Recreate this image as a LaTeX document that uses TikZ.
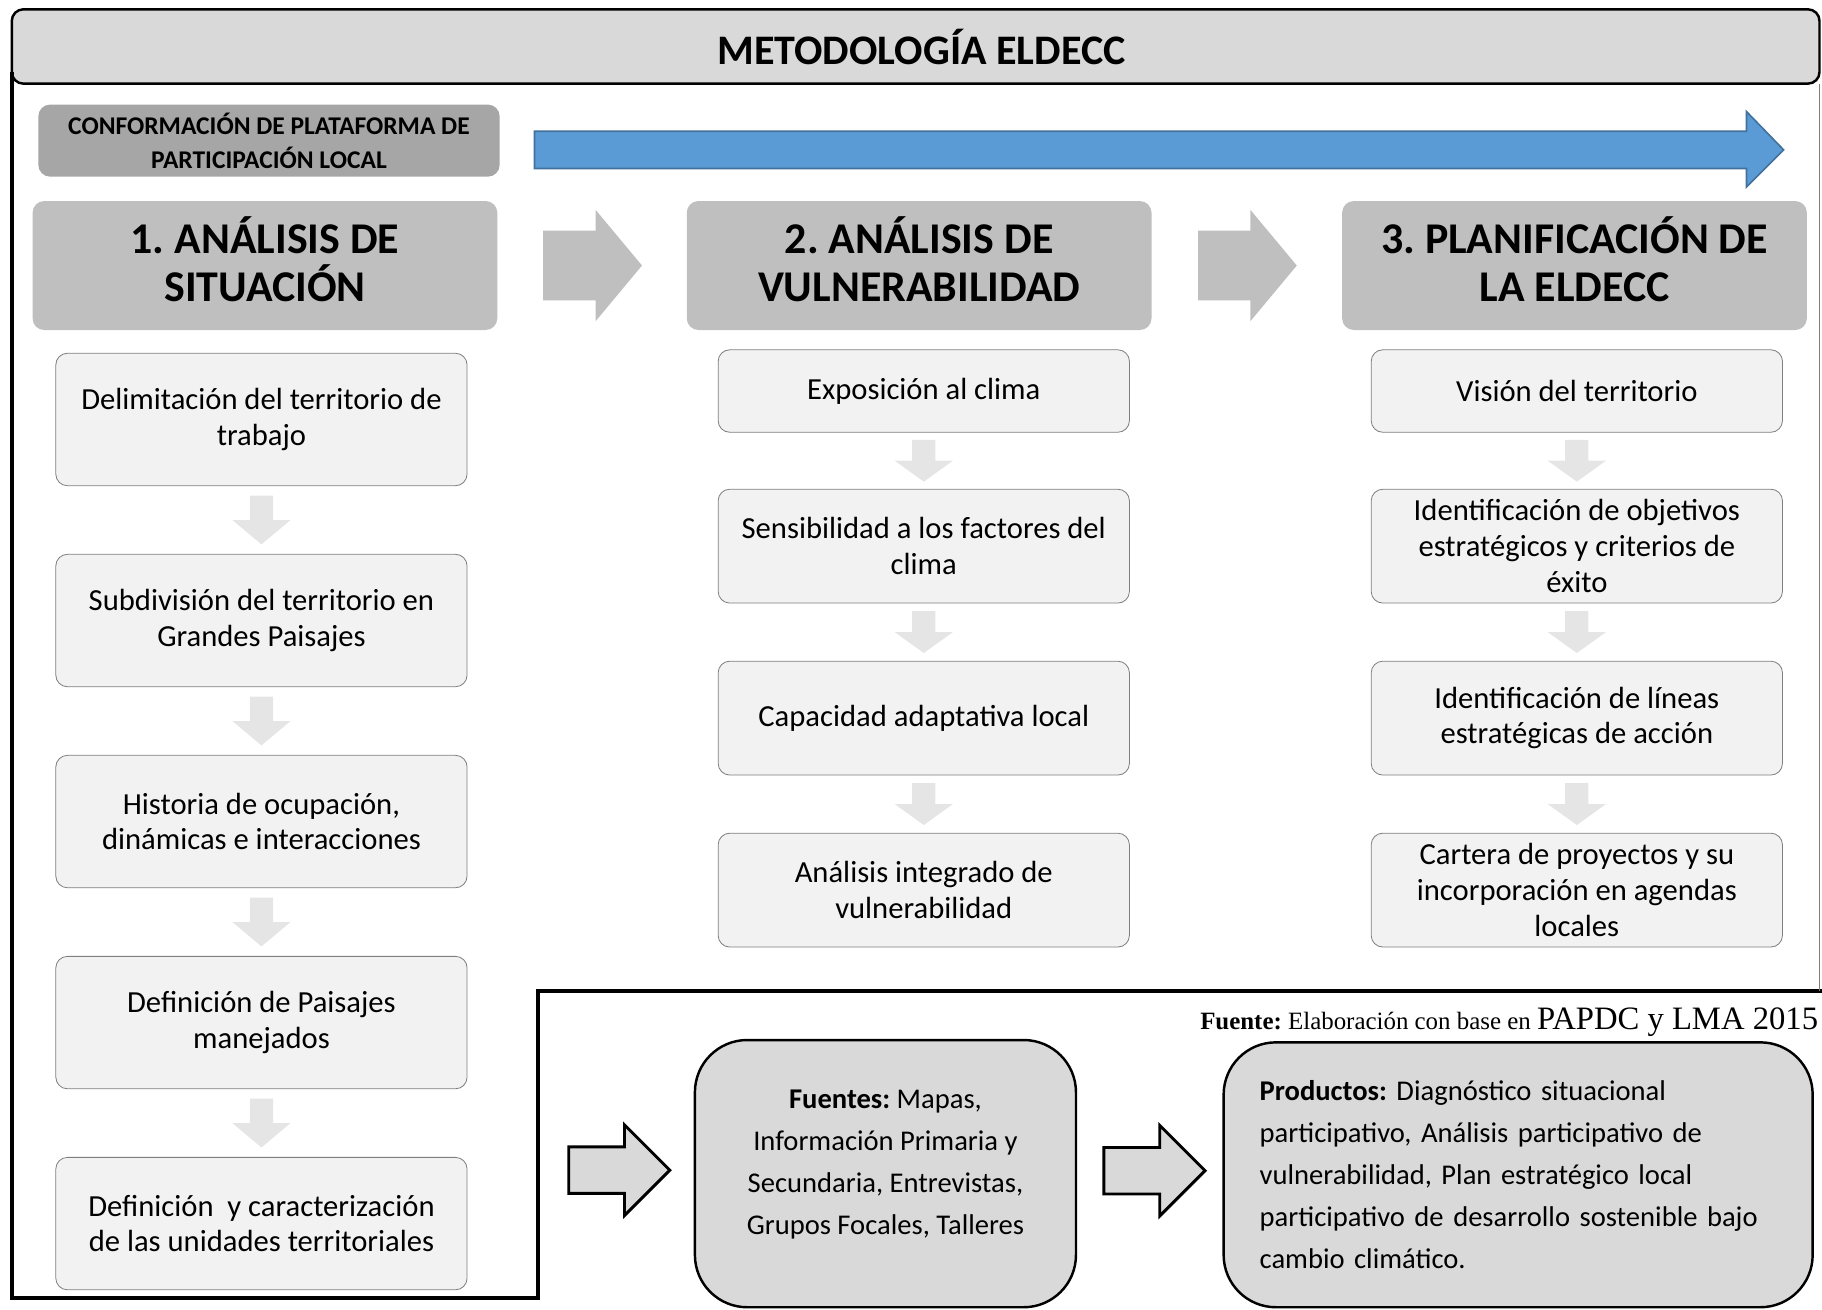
\documentclass[tikz,border=0pt]{standalone}
\usepackage{fontspec}
\setmainfont{Carlito}
\newfontfamily\timesfont{Liberation Serif}
\usetikzlibrary{calc}
\frenchspacing
\definecolor{titlegray}{RGB}{217,217,217}
\definecolor{confgray}{RGB}{166,166,166}
\definecolor{headgray}{RGB}{191,191,191}
\definecolor{boxfill}{RGB}{242,242,242}
\definecolor{boxline}{RGB}{127,127,127}
\definecolor{arrowgray}{RGB}{229,229,229}
\definecolor{blueA}{RGB}{91,155,213}
\definecolor{blueB}{RGB}{65,113,156}

\tikzset{
  pics/downarrow/.style={code={
    \fill[arrowgray] (-10,-0.5*#1) -- (10,-0.5*#1) -- (10,0) -- (25,0) -- (0,0.5*#1)
      -- (-25,0) -- (-10,0) -- cycle;}},
  pics/headarrow/.style={code={
    \fill[headgray] (-42,-30) -- (3,-30) -- (3,-48) -- (43,0) -- (3,48) -- (3,30)
      -- (-42,30) -- cycle;}},
  pics/openarrow/.style={code={
    \draw[line width=1.4pt, fill=titlegray, line join=miter] (-43.5,-20) -- (4.5,-20)
      -- (4.5,-39) -- (43.5,0) -- (4.5,39) -- (4.5,20) -- (-43.5,20) -- cycle;}}
}

\begin{document}
\begin{tikzpicture}[x=0.02cm, y=-0.02cm,
  titlebox/.style={draw, line width=1.2pt, fill=titlegray, rounded corners=0.2cm,
    minimum width=31.12cm, minimum height=1.28cm, font=\fontsize{20.6}{24}\selectfont\bfseries},
  confbox/.style={fill=confgray, rounded corners=0.2cm, minimum width=7.94cm,
    minimum height=1.24cm, align=center, font=\fontsize{12.5}{16.5}\selectfont\bfseries},
  headbox/.style={fill=headgray, rounded corners=0.2cm, minimum width=8cm,
    minimum height=2.22cm, align=center, font=\fontsize{21.5}{23.5}\selectfont\bfseries},
  stepbox/.style={draw=boxline, fill=boxfill, rounded corners=0.2cm, minimum width=7.08cm,
    align=center, inner sep=2pt, font=\fontsize{15}{17.5}\selectfont},
  tallbox/.style={stepbox, minimum height=2.28cm},
  shortbox/.style={stepbox, minimum height=1.42cm},
  midbox/.style={stepbox, minimum height=1.96cm},
  roundbox/.style={draw, line width=1.2pt, fill=titlegray, rounded corners=0.9cm,
    font=\fontsize{14}{20.6}\selectfont}]

\useasboundingbox (0,0) rectangle (1568,1127);

\node[titlebox] (title) at (788,40) {\hspace{0.2cm}METODOLOGÍA ELDECC};
\draw[line width=2pt] (10,62) -- (10,1117) -- (463,1117) -- (463,853) -- (1570,853);
\draw[boxline, line width=0.5pt] (1566,72) -- (1566,853);

\node[confbox] (conf) at (231.5,121) {CONFORMACIÓN DE PLATAFORMA DE\\PARTICIPACIÓN LOCAL};
\draw[fill=blueA, draw=blueB, line width=0.8pt] (460,113) -- (1503,113) -- (1503,96)
  -- (1535,129) -- (1503,161) -- (1503,145) -- (460,145) -- cycle;

\node[headbox] (h1) at (228,228.5) {1. ANÁLISIS DE\\SITUACIÓN\\[-17pt]};
\node[headbox] (h2) at (791,228.5) {2. ANÁLISIS DE\\VULNERABILIDAD\\[-17pt]};
\node[headbox] (h3) at (1355,228.5) {3. PLANIFICACIÓN DE\\LA ELDECC\\[-17pt]};
\pic at ($(h1.east)!0.5!(h2.west)$) {headarrow};
\pic at ($(h2.east)!0.5!(h3.west)$) {headarrow};

\node[tallbox] (b11) at (225,361) {Delimitación del territorio de\\trabajo};
\node[tallbox] (b12) at (225,534) {Subdivisión del territorio en\\Grandes Paisajes};
\node[tallbox] (b13) at (225,707) {Historia de ocupación,\\dinámicas e interacciones};
\node[tallbox] (b14) at (225,880) {Definición de Paisajes\\manejados};
\node[tallbox] (b15) at (225,1053) {Definición~ y caracterización\\de las unidades territoriales};

\node[shortbox] (b21) at (795,336.5) {Exposición al clima};
\node[midbox] (b22) at (795,470) {Sensibilidad a los factores del\\clima};
\node[midbox] (b23) at (795,618) {Capacidad adaptativa local};
\node[midbox] (b24) at (795,766) {Análisis integrado de\\vulnerabilidad};

\node[shortbox] (b31) at (1357,336.5) {Visión del territorio};
\node[midbox] (b32) at (1357,470) {Identificación de objetivos\\estratégicos y criterios de\\éxito};
\node[midbox] (b33) at (1357,618) {Identificación de líneas\\estratégicas de acción};
\node[midbox] (b34) at (1357,766) {Cartera de proyectos y su\\incorporación en agendas\\locales};

\foreach \a/\b in {b11/b12, b12/b13, b13/b14, b14/b15}
  \pic at ($(\a.south)!0.5!(\b.north)$) {downarrow=42};
\foreach \a/\b in {b21/b22, b22/b23, b23/b24, b31/b32, b32/b33, b33/b34}
  \pic at ($(\a.south)!0.5!(\b.north)$) {downarrow=36};

\node[anchor=base east, inner xsep=0pt, font=\timesfont] (fuente) at (1565,886)
  {\fontsize{12.2}{15}\selectfont\textbf{Fuente:} Elaboración con base en
   \fontsize{16}{19}\selectfont PAPDC y LMA 2015};

\node[roundbox, minimum width=6.56cm, minimum height=4.6cm, align=center] (fuentes) at (762,1010)
  {\textbf{Fuentes:} Mapas,\\Información Primaria y\\Secundaria, Entrevistas,\\Grupos Focales, Talleres\\[-9.5pt]};
\node[roundbox, minimum width=10.14cm, minimum height=4.56cm, text width=8.9cm, align=left,
  inner xsep=0.6cm] (productos) at (1306.5,1011)
  {\textbf{Productos:} Diagnóstico situacional\\participativo, Análisis participativo de\\vulnerabilidad, Plan estratégico local\\participativo de desarrollo sostenible bajo\\cambio climático.};
\pic at ($(fuentes.west)+(-64,-3)$) {openarrow};
\pic at ($(fuentes.east)!0.5!(productos.west)+(4,-3)$) {openarrow};

\end{tikzpicture}
\end{document}
